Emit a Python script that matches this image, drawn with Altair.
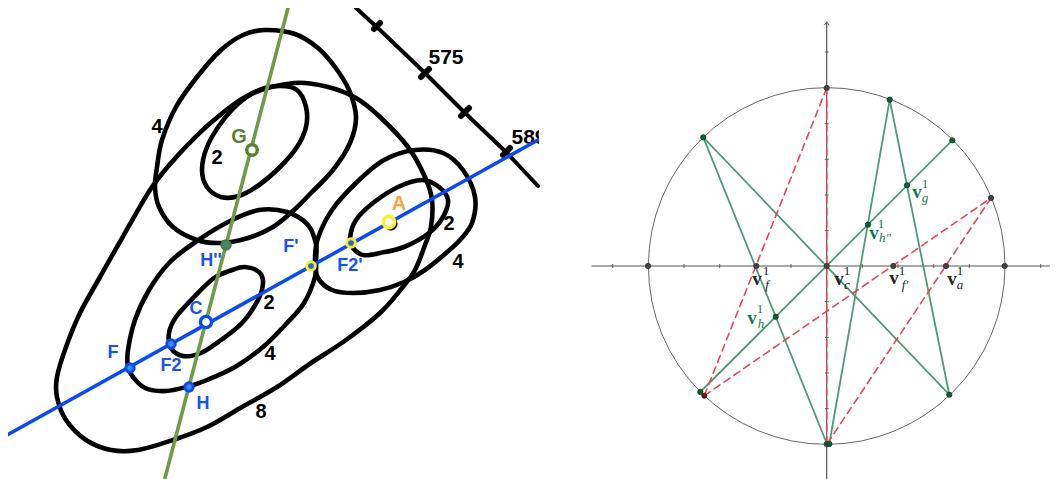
import altair as alt
import pandas as pd

# ---- left panel: contour curves
loop_g4 = [(265,30),(295,34),(318,48),(335,67),(349,90),(356,117),(350,143),(333,170),(311,193),(294,210),(273,227),(248,238),(221,243),(197,240),(173,227),(159,207),(155,187),(157,167),(162,140),(176,107),(197,77),(221,50),(243,35)]
loop_g2 = [(280,86),(297,90),(306,107),(306,127),(297,147),(280,167),(259,185),(239,196),(221,197),(207,187),(202,170),(207,147),(221,123),(239,103),(259,90)]
loop_8 = [(294,83),(328,87),(356,98),(380,117),(408,147),(425,177),(432,200),(431,227),(425,245),(415,270),(402,288),(380,313),(346,340),(311,363),(277,387),(242,407),(207,427),(173,440),(138,450),(111,450),(86,440),(66,420),(57,397),(57,377),(66,347),(80,313),(100,277),(121,240),(152,187),(180,153),(214,120),(249,95)]
loop_h4 = [(128,367),(128,350),(135,320),(149,290),(169,263),(194,243),(228,222),(259,210),(287,212),(308,225),(316,244),(316,260),(315,277),(304,303),(287,323),(263,347),(235,367),(207,380),(190,386),(166,391),(145,388),(133,377)]
loop_c2 = [(245,267),(259,272),(263,283),(258,300),(242,323),(221,340),(201,353),(183,356),(171,348),(169,333),(176,317),(194,297),(214,278),(232,270)]
loop_a4 = [(318,238),(332,210),(356,183),(384,160),(415,150),(443,153),(463,170),(475,197),(472,223),(460,240),(446,253),(425,270),(404,282),(380,290),(353,293),(332,290),(318,278),(315,260)]
loop_a2 = [(350,238),(356,220),(373,203),(398,187),(422,180),(439,187),(448,200),(443,217),(429,233),(404,247),(380,253),(363,255),(353,248)]
isobar = [(356,8),(380,30),(425,73),(465,113),(506,152),(538,186)]
isobar_ticks = [[(374,29),(380,23)],[(421,77),(429,69)],[(461,116),(469,108)],[(503,155),(510,148)]]
blue_line = [(7,435),(538,140)]
olive_line = [(288,8),(165,478)]

contour_numbers = [("4",157,127),("2",217,158),("2",269,303),("4",270,354),("8",261,412),("2",449,224),("4",458,262)]
isobar_numbers = [("575",446,58),("589",529,138)]
blue_labels = [("F'",291,247),("F2'",350,266),("H''",211,261),("C",196,309),("F",113,353),("F2",171,366),("H",203,404)]
olive_labels = [("G",239,137)]
orange_labels = [("A",399,204)]

white_rings_blue = [(206,322)]
blue_dots = [(130,368),(171,344),(189,387)]
yellow_dots = [(311,266),(351,243)]
white_rings_yellow = [(389,222)]
white_rings_olive = [(252,150)]
hpp_dot = [(226,245)]

# ---- right panel
center = [(826.7,266)]
axis_h = [(592,266),(1058,266)]
axis_v = [(826.7,22),(826.7,479)]
arrow = [(824.5,25),(826.7,22),(829,25)]
h_ticks = [612.7,684,719.7,755.4,791,862.3,898,933.7,969.3,1040.7]
v_ticks = [52,123.7,159.3,195,230.7,301.7,337.4,373,408.7]
green_segments = [
    [(703.3,137.3),(827,444)],
    [(703.3,137.3),(949.3,394.7)],
    [(889.7,99.7),(829.3,444)],
    [(889.7,99.7),(949.3,394.7)],
    [(952.3,140.3),(700.3,392)],
]
red_segments = [
    [(826.7,88),(704.3,395.7)],
    [(826.7,88),(826.7,444)],
    [(704.3,395.7),(991,198)],
    [(991,198),(827,444)],
]
gray_points = [(648,266),(1004.7,266),(826.7,266),(826.7,88),(826.7,444),(756.3,266),(893.3,266),(946,266),(991,198)]
green_points = [(703.3,137.3),(889.7,99.7),(952.3,140.3),(700.3,392),(829.3,444),(949.3,394.7),(907,185.3),(868,224.7),(775.7,316.7)]
red_points = [(704.3,395.7)]

dark_v = [("v",757,279),("v",839,279),("v",894,278),("v",952,279)]
dark_one = [("1",766,271),("1",847,271),("1",902,271),("1",960,271)]
dark_sub = [("f",767,285),("c",847,285),("f′",905,285),("a",960,285)]
green_v = [("v",752,318),("v",917,192),("v",874,233)]
green_one = [("1",760,309),("1",925,184),("1",881,224)]
green_sub = [("h",761,324),("g",925,198),("h″",885,238)]

X = alt.Scale(domain=[8, 1050])
Y = alt.Scale(domain=[8, 479], reverse=True)
ex = alt.X("x:Q", scale=X, axis=None)
ey = alt.Y("y:Q", scale=Y, axis=None)


def curve(points, color, width, interp="linear", dash=None):
    df = pd.DataFrame(points, columns=["x", "y"])
    df["i"] = range(len(df))
    kw = {"strokeDash": dash} if dash else {}
    return alt.Chart(df).mark_line(color=color, strokeWidth=width, interpolate=interp,
                                   clip=True, strokeCap="round", **kw).encode(x=ex, y=ey, order="i:Q")


def dots(points, size, fill, stroke, sw):
    df = pd.DataFrame(points, columns=["x", "y"])
    return alt.Chart(df).mark_point(shape="circle", size=size, fill=fill, stroke=stroke, strokeWidth=sw,
                                    opacity=1, fillOpacity=1).encode(x=ex, y=ey)


def labels(items, size, color, font="Liberation Sans", weight="normal", style="normal"):
    df = pd.DataFrame(items, columns=["t", "x", "y"])
    return alt.Chart(df).mark_text(fontSize=size, color=color, font=font, fontWeight=weight, fontStyle=style,
                                   align="center", baseline="middle").encode(x=ex, y=ey, text="t:N")


BLACK = "#000000"
BLUE = "#0b49f2"
OLIVE = "#6f9a48"
layers = []
for lp in [loop_g4, loop_g2, loop_8, loop_h4, loop_c2, loop_a4, loop_a2]:
    layers.append(curve(lp, BLACK, 4.6, "cardinal-closed"))
layers.append(curve(isobar, BLACK, 4))
for t in isobar_ticks:
    layers.append(curve(t, BLACK, 6))
layers.append(labels(contour_numbers, 20, BLACK, weight="bold"))
layers.append(labels(isobar_numbers, 21, BLACK, weight="bold"))
layers.append(curve(blue_line, BLUE, 3.6))
layers.append(curve(olive_line, OLIVE, 3.6))
layers.append(dots(white_rings_olive, 110, "#ffffff", "#5c7f2e", 3.4))
layers.append(dots(hpp_dot, 90, "#3f8a6e", "#4f7a35", 2))
layers.append(dots(white_rings_blue, 125, "#ffffff", BLUE, 3.4))
layers.append(dots(blue_dots, 70, "#3f8fe0", BLUE, 3))
layers.append(dots(yellow_dots, 75, "#2a62d8", "#f2ec30", 3))
layers.append(dots([(391, 224)], 150, "#000000", "#000000", 1))
layers.append(dots(white_rings_yellow, 130, "#ffffff", "#f8f030", 3.6))
layers.append(labels(blue_labels, 18, "#1652ee", weight="bold"))
layers.append(labels(olive_labels, 20, "#5c7f2e", weight="bold"))
layers.append(labels(orange_labels, 20, "#f5a63c", weight="bold"))
# cut the image edge: anything past x=539 is white
mask = pd.DataFrame({"x": [539], "x2": [570], "y": [110], "y2": [170]})
layers.append(alt.Chart(mask).mark_rect(color="#ffffff").encode(x=ex, x2="x2:Q", y=ey, y2="y2:Q"))

# right panel
GRAY = "#555555"
layers.append(dots(center, 127170, "transparent", "#666666", 1))
layers.append(curve(axis_h, GRAY, 1.2))
layers.append(curve(axis_v, GRAY, 1.2))
layers.append(curve(arrow, GRAY, 1))
for v in h_ticks:
    layers.append(curve([(v, 264.5), (v, 267.5)], GRAY, 1))
for v in v_ticks:
    layers.append(curve([(825.2, v), (828.2, v)], GRAY, 1))
for s in green_segments:
    layers.append(curve(s, "#4f9a78", 1.8))
for s in red_segments:
    layers.append(curve(s, "#e4455a", 1.6, dash=[7, 5]))
layers.append(dots(gray_points, 28, "#444444", "#333333", 0.8))
layers.append(dots(green_points, 28, "#0b5f35", "#0a3a22", 0.8))
layers.append(dots(red_points, 26, "#7a1010", "#3a1010", 0.8))
layers.append(labels(dark_v, 19, "#222222", font="Liberation Serif", weight="bold"))
layers.append(labels(dark_one, 13, "#222222", font="Liberation Serif"))
layers.append(labels(dark_sub, 13, "#222222", font="Liberation Serif", style="italic"))
layers.append(labels(green_v, 19, "#0f7a50", font="Liberation Serif", weight="bold"))
layers.append(labels(green_one, 13, "#0f7a50", font="Liberation Serif"))
layers.append(labels(green_sub, 13, "#0f7a50", font="Liberation Serif", style="italic"))

chart = alt.layer(*layers).properties(width=1042, height=471, padding=0, background="white").configure_view(stroke=None)
chart.save("out.html", embed_options={"renderer": "svg", "actions": False})
